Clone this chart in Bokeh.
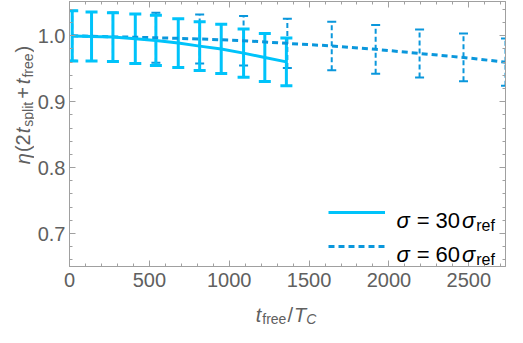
import math
from bokeh.plotting import figure
from bokeh.layouts import row, column
from bokeh.models import (ColumnDataSource, Range1d, LinearAxis, SingleIntervalTicker,
                          PrintfTickFormatter, Whisker, TeeHead, Legend, LegendItem, Label,
                          CustomLabelingPolicy)
from bokeh.embed import file_html
from bokeh.resources import INLINE

# ---------------- data ----------------
t_free_30 = [17, 138, 272, 412, 541, 681, 815, 950, 1090, 1223, 1358]
eta_30 = [0.9998, 0.9989, 0.9980, 0.9955, 0.9930, 0.9890, 0.9843, 0.9800, 0.9737, 0.9670, 0.9604]
err_30 = [0.0380, 0.0370, 0.0370, 0.0375, 0.0380, 0.0370, 0.0370, 0.0373, 0.0365, 0.0365, 0.0363]

t_free_60 = [17, 272, 541, 815, 1090, 1364, 1642, 1917, 2192, 2467, 2730]
eta_60 = [1.0000, 0.9985, 0.9970, 0.9952, 0.9925, 0.9885, 0.9846, 0.9794, 0.9732, 0.9671, 0.9600]
err_60 = [0.0380, 0.0370, 0.0380, 0.0372, 0.0375, 0.0375, 0.0368, 0.0370, 0.0365, 0.0362, 0.0358]

legend_numbers = ["30", "60"]

x_limits = [0, 2730]
y_limits = [0.65, 1.052]
x_tick_step = 500
y_tick_step = 0.1

C30 = "#00C3FA"
C60 = "#0A97DC"
GRAY = "#A0A0A0"
TXT = "#606060"
FONT = "Liberation Sans"

# ---------------- layout ----------------
YLW = 34            # width of the y-label strip
XLH = 32            # height of the x-label strip
MW, MH = 507 - YLW, 327 - XLH
BL, BR, BT, BB = 32, 2, 1, 29
FW = MW - BL - BR
FH = MH - BT - BB

p = figure(width=MW, height=MH, output_backend="svg", toolbar_location=None,
           x_range=Range1d(*x_limits), y_range=Range1d(*y_limits),
           x_axis_location=None, y_axis_location=None,
           min_border_left=BL, min_border_right=BR, min_border_top=BT, min_border_bottom=BB)
p.grid.visible = False
p.outline_line_color = GRAY
p.background_fill_color = "white"
p.border_fill_color = "white"

hide_labels = CustomLabelingPolicy(code="for (const i of indices) { indices.unset(i) }\nreturn indices")


def make_axis(interval, fmt, show, standoff):
    ax = LinearAxis(ticker=SingleIntervalTicker(interval=interval, num_minor_ticks=5),
                    formatter=PrintfTickFormatter(format=fmt))
    ax.axis_line_color = GRAY
    ax.major_tick_line_color = GRAY
    ax.minor_tick_line_color = GRAY
    ax.major_tick_in = 6
    ax.major_tick_out = 0
    ax.minor_tick_in = 3
    ax.minor_tick_out = 0
    ax.major_label_text_font = FONT
    ax.major_label_text_color = TXT
    ax.major_label_text_font_size = "20px"
    ax.major_label_standoff = standoff
    if not show:
        ax.major_label_policy = hide_labels
        ax.major_label_text_font_size = "0px"
        ax.major_label_standoff = 0
    return ax


p.add_layout(make_axis(x_tick_step, "%d", True, 6), "below")
p.add_layout(make_axis(y_tick_step, "%.1f", True, 4), "left")
p.add_layout(make_axis(x_tick_step, "%d", False, 0), "above")
p.add_layout(make_axis(y_tick_step, "%.1f", False, 0), "right")

# ---------------- series ----------------
src30 = ColumnDataSource(dict(x=t_free_30, y=eta_30,
                              lo=[v - e for v, e in zip(eta_30, err_30)],
                              hi=[v + e for v, e in zip(eta_30, err_30)]))
src60 = ColumnDataSource(dict(x=t_free_60, y=eta_60,
                              lo=[v - e for v, e in zip(eta_60, err_60)],
                              hi=[v + e for v, e in zip(eta_60, err_60)]))

w60 = Whisker(source=src60, base="x", upper="hi", lower="lo",
              line_color=C60, line_width=2, line_dash="5 3",
              upper_head=TeeHead(size=9, line_color=C60, line_width=2),
              lower_head=TeeHead(size=9, line_color=C60, line_width=2))
w30 = Whisker(source=src30, base="x", upper="hi", lower="lo",
              line_color=C30, line_width=3,
              upper_head=TeeHead(size=12, line_color=C30, line_width=3),
              lower_head=TeeHead(size=12, line_color=C30, line_width=3))
p.add_layout(w60)
p.add_layout(w30)

r60 = p.line("x", "y", source=src60, line_color=C60, line_width=3, line_dash="6 4")
r30 = p.line("x", "y", source=src30, line_color=C30, line_width=3)

ROW1, ROW2 = 54, 20     # legend row centres above frame bottom
legend = Legend(items=[LegendItem(label=" ", renderers=[r30]),
                       LegendItem(label=" ", renderers=[r60])],
                location=(FW - 180, ROW2 - 17), glyph_width=57, glyph_height=34, spacing=0,
                padding=0, margin=0, label_standoff=0, label_text_font_size="1px",
                border_line_color=None, background_fill_alpha=0)
p.add_layout(legend)

# ---------------- composed texts ----------------
WID = {'η': 0.556, 'σ': 0.60, '(': 0.333, ')': 0.333, '+': 0.584, '=': 0.584, ' ': 0.278,
       '/': 0.278, 't': 0.278, 's': 0.5, 'p': 0.556, 'l': 0.222, 'i': 0.222, 'f': 0.278,
       'r': 0.333, 'e': 0.556, 'T': 0.611, 'C': 0.722}


def tw(s, size):
    return sum(WID.get(c, 0.556) for c in s) * size


def compose(fig, parts, x0, y0, color, angle=0.0, center=False):
    # parts: (text, size, italic, drop, gap_before)
    total = sum(tw(t, s) + g for t, s, it, d, g in parts)
    pos = -total / 2 if center else 0.0
    for text, size, italic, drop, gap in parts:
        pos += gap
        if angle == 0:
            x, y = x0 + pos, y0 - drop
        else:
            x, y = x0 + drop, y0 + pos
        fig.add_layout(Label(x=x, y=y, x_units="screen", y_units="screen", text=text,
                             angle=angle, text_font=FONT, text_font_size=f"{size}px",
                             text_font_style="italic" if italic else "normal",
                             text_color=color, text_align="left", text_baseline="alphabetic"))
        pos += tw(text, size)


def strip(w, h):
    f = figure(width=w, height=h, output_backend="svg", toolbar_location=None,
               x_range=Range1d(0, 1), y_range=Range1d(0, 1),
               x_axis_location=None, y_axis_location=None, min_border=0)
    f.grid.visible = False
    f.outline_line_color = None
    f.background_fill_color = "white"
    f.border_fill_color = "white"
    return f


F, FS = 20, 14
# y-axis label  eta(2 t_split + t_free)
ylab = strip(YLW, MH)
compose(ylab, [("η", F, True, 0, 0), ("(", F, False, 0, 1), ("2", F, False, 0, 0),
               ("t", F, True, 0, 1), ("split", FS, False, 5, 1), ("+", F, False, 0, 3),
               ("t", F, True, 0, 3), ("free", FS, False, 5, 1), (")", F, False, 0, 1)],
        22, MH - (BT + FH / 2), TXT, angle=math.pi / 2, center=True)

# x-axis label  t_free / T_C
xlab = strip(YLW + MW, XLH)
compose(xlab, [("t", F, True, 0, 0), ("free", FS, False, 4, 1), ("/", F, False, 0, 1),
               ("T", F, True, 0, 1), ("C", FS, True, 4, 0)],
        YLW + BL + FW / 2, 13, TXT, center=True)

# legend texts
LF, LS = 22, 16
for row_y, num in zip([ROW1 - 8, ROW2 - 8], legend_numbers):
    compose(p, [("σ", LF, True, 0, 0), ("=", LF, False, 0, 7), (num, LF, False, 0, 6),
                ("σ", LF, True, 0, 2), ("ref", LS, False, 5, 1)],
            FW - 112, row_y, "black")

layout = column(row(ylab, p), xlab)
open("out.html", "w").write(file_html(layout, INLINE))
